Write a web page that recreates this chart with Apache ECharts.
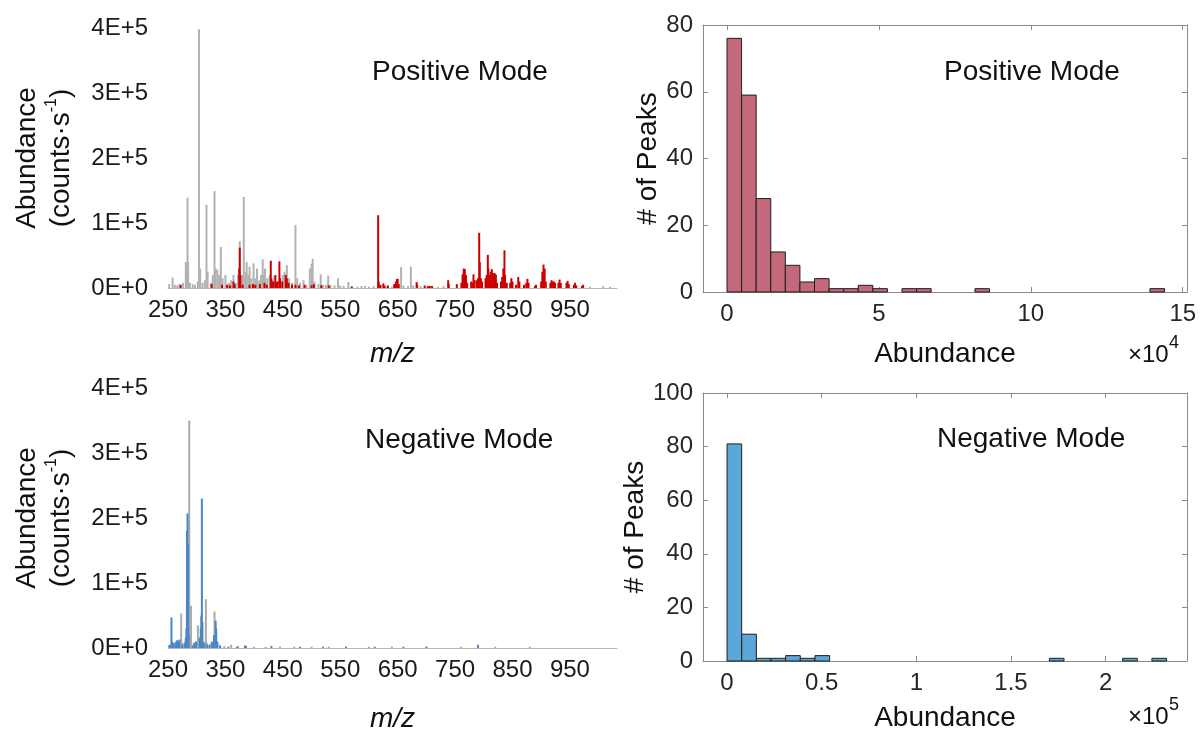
<!DOCTYPE html>
<html>
<head>
<meta charset="utf-8">
<script src="https://cdn.jsdelivr.net/npm/echarts@6/dist/echarts.min.js"></script>
<style>
html,body{margin:0;padding:0;background:#fff;}
#chart{width:1201px;height:739px;}
</style>
</head>
<body>
<div id="chart"></div>
<script>
// ---------- DATA ----------
// m/z tick labels for the spectra
const mzTicks = [250, 350, 450, 550, 650, 750, 850, 950];
const abundanceTicks = [0, 100000, 200000, 300000, 400000];

// Positive mode spectrum: all peaks (grey) [m/z, counts/s]
const posGray = [
  [252,6000],[258,16000],[262,5000],[266,4000],[270,6000],[276,8000],[281,40000],[283,30000],
  [284,139000],[285,40000],[288,8000],[293,6000],[297,5000],[302,10000],[304,398000],[306,30000],
  [310,8000],[314,12000],[317,128000],[319,25000],[325,8000],[328,20000],[331,149000],[333,30000],
  [336,28000],[339,20000],[342,63000],[345,15000],[350,20000],[356,8000],[360,12000],[364,20000],
  [368,8000],[372,20000],[375,72000],[379,20000],[382,140000],[385,25000],[387,40000],[390,20000],
  [392,33000],[395,15000],[399,38000],[402,15000],[405,30000],[409,12000],[412,20000],[415,44000],
  [417,20000],[419,30000],[423,15000],[427,20000],[431,12000],[435,18000],[440,10000],[446,12000],
  [450,20000],[453,25000],[457,35000],[461,15000],[466,8000],[472,97000],[475,15000],[480,8000],
  [486,12000],[491,5000],[497,30000],[500,37000],[502,45000],[505,10000],[512,6000],[516,21000],
  [520,5000],[525,5000],[529,19000],[533,5000],[540,4000],[546,15000],[550,4000],[556,3000],
  [564,9000],[570,3000],[580,2000],[587,3000],[593,3000],[600,2000],[608,3000],[620,3000],
  [630,2000],[640,2000],[656,32000],[660,4000],[668,3000],[673,33000],[677,4000],[690,3000],
  [700,2000],[710,3000],[720,2000],[730,3000],[985,2000],[1008,3000],[1020,2000]
];
// Positive mode spectrum: annotated peaks (red)
const posRed = [
  [272,5000],[326,6000],[344,5000],[353,5000],[358,4000],[364,10000],[366,6000],[374,30000],
  [375,62000],[376,20000],[380,5000],[392,5000],[398,6000],[402,5000],[410,6000],[418,8000],
  [422,5000],[429,42000],[430,15000],[433,10000],[437,20000],[438,8000],[441,10000],[444,41000],
  [445,15000],[449,10000],[455,20000],[457,15000],[460,8000],[466,5000],[472,5000],[478,4000],
  [488,5000],[500,4000],[504,6000],[517,4000],[530,4000],[570,2000],[616,112000],[617,10000],
  [620,5000],[625,7000],[627,4000],[633,4000],[644,6000],[647,10000],[649,14000],[650,14000],
  [652,6000],[683,9000],[684,5000],[697,4000],[703,3000],[706,3000],[710,3000],[738,12000],
  [739,6000],[753,6000],[761,8000],[763,21000],[765,30000],[767,29000],[769,20000],[771,8000],
  [778,10000],[780,8000],[782,21000],[784,12000],[788,12000],[790,15000],[792,85000],[793,40000],
  [795,15000],[797,10000],[803,15000],[805,20000],[807,51000],[808,30000],[810,20000],[812,25000],
  [814,29000],[816,23000],[818,23000],[820,22000],[821,20000],[823,8000],[830,10000],[832,17000],
  [834,30000],[836,58000],[837,20000],[840,8000],[846,8000],[848,15000],[850,10000],[856,5000],
  [860,17000],[862,10000],[870,5000],[874,8000],[876,14000],[878,8000],[889,3000],[891,5000],
  [900,10000],[902,25000],[904,36000],[906,30000],[908,10000],[916,8000],[918,12000],[920,10000],
  [922,10000],[924,8000],[930,8000],[932,13000],[934,8000],[944,8000],[946,11000],[948,6000],
  [957,5000],[959,8000],[961,4000],[971,3000],[973,5000]
];
// Negative mode spectrum: all peaks (grey)
const negGray = [
  [252,4000],[258,5000],[262,4000],[266,8000],[270,10000],[273,53000],[275,8000],[280,10000],
  [287,350000],[288,60000],[290,65000],[295,8000],[299,10000],[302,35000],[305,10000],[312,10000],
  [316,75000],[318,8000],[325,8000],[331,56000],[333,8000],[340,5000],[348,3000],[360,5000],
  [372,3000],[400,2000],[420,2000],[445,2000],[470,2000],[500,2000],[530,2000],[560,2000],
  [600,2000],[640,2000],[700,2000],[760,2000],[820,2000],[880,2000]
];
// Negative mode spectrum: annotated peaks (blue)
const negBlue = [
  [253,5000],[256,47000],[257,10000],[260,8000],[264,10000],[266,12000],[268,10000],[270,13000],
  [275,5000],[279,8000],[281,16000],[282,30000],[283,180000],[284,207000],[285,160000],[286,20000],
  [293,4000],[296,8000],[299,10000],[305,16000],[307,30000],[308,50000],[309,230000],[310,40000],
  [313,8000],[318,5000],[322,5000],[327,10000],[330,20000],[333,42000],[334,30000],[336,10000],
  [341,3000],[355,2000],[370,2000],[384,4000],[386,3000],[430,3000],[480,2000],[520,2000],
  [560,2000],[610,2000],[660,2000],[700,2000],[790,5000]
];

// Histograms: number of peaks per abundance bin
const posBinWidth = 0.48;   // x 1e4
const posCounts = [76,59,28,12,8,3,4,1,1,2,1,0,1,1,0,0,0,1,0,0,0,0,0,0,0,0,0,0,0,1];
const posHistTicks = [0, 5, 10, 15];
const negBinWidth = 0.0774; // x 1e5
const negCounts = [81,10,1,1,2,1,2,0,0,0,0,0,0,0,0,0,0,0,0,0,0,0,1,0,0,0,0,1,0,1];
const negHistTicks = [0, 0.5, 1, 1.5, 2];

// ---------- CHART ----------
const FONT = "'Liberation Sans', Arial, sans-serif";
const chart = echarts.init(document.getElementById('chart'), null, {renderer: 'canvas'});

function binData(counts, w) {
  const out = [];
  counts.forEach((c, i) => { if (c > 0) out.push([i * w, (i + 1) * w, c]); });
  return out;
}
function histRender(params, api) {
  const p0 = api.coord([api.value(0), api.value(2)]);
  const p1 = api.coord([api.value(1), 0]);
  return {
    type: 'rect',
    shape: {x: p0[0], y: p0[1], width: p1[0] - p0[0], height: p1[1] - p0[1]},
    style: {fill: api.visual('color'), stroke: '#1e1e1e', lineWidth: 1}
  };
}
function expFmt(v) { return v === 0 ? '0E+0' : Math.round(v / 1e5) + 'E+5'; }

const specGrids = [
  {left: 168, top: 28, width: 449, height: 260},
  {left: 168, top: 388, width: 449, height: 260}
];
const histGrids = [
  {left: 703, top: 25, width: 484, height: 267},
  {left: 703, top: 393, width: 484, height: 268}
];

const yNameRich = {
  a: {fontSize: 28, fontFamily: FONT, color: '#111', lineHeight: 34},
  s: {fontSize: 16, fontFamily: FONT, color: '#111', verticalAlign: 'top'}
};
const AX = '#8a8a8a';

function specX(gi, gap) {
  return {
    type: 'value', gridIndex: gi, min: 250, max: 1032,
    axisLine: {show: true, onZero: false, lineStyle: {color: '#b8b8b8', width: 1}},
    axisTick: {show: false}, splitLine: {show: false},
    axisLabel: {customValues: mzTicks, fontSize: 24, fontFamily: FONT, color: '#1a1a1a', margin: 10},
    name: 'm/z', nameLocation: 'middle', nameGap: gap,
    nameTextStyle: {fontSize: 28, fontStyle: 'italic', fontFamily: FONT, color: '#111'}
  };
}
function specY(gi) {
  return {
    type: 'value', gridIndex: gi, min: 0, max: 400000, interval: 100000,
    axisLine: {show: false, onZero: false}, axisTick: {show: false}, splitLine: {show: false},
    axisLabel: {formatter: expFmt, fontSize: 24, fontFamily: FONT, color: '#1a1a1a', margin: 20},
    name: '{a|Abundance}\n{a|(counts·s}{s|-1}{a|)}',
    nameLocation: 'middle', nameRotate: 90, nameGap: 90,
    nameTextStyle: {rich: yNameRich}
  };
}
function histX(gi, min, max, ticks, gap) {
  return {
    type: 'value', gridIndex: gi, min: min, max: max, position: 'bottom',
    axisLine: {show: true, onZero: false, lineStyle: {color: AX}},
    axisTick: {show: true, inside: true, length: 5, customValues: ticks, lineStyle: {color: AX}},
    splitLine: {show: false},
    axisLabel: {customValues: ticks, fontSize: 24, fontFamily: FONT, color: '#262626', margin: 10,
      formatter: v => String(v)},
    name: 'Abundance', nameLocation: 'middle', nameGap: gap,
    nameTextStyle: {fontSize: 28, fontFamily: FONT, color: '#111'}
  };
}
function histXTop(gi, min, max, ticks) {
  return {
    type: 'value', gridIndex: gi, min: min, max: max, position: 'top',
    axisLine: {show: true, onZero: false, lineStyle: {color: AX}},
    axisTick: {show: true, inside: true, length: 5, customValues: ticks, lineStyle: {color: AX}},
    splitLine: {show: false}, axisLabel: {show: false}
  };
}
function histY(gi, max) {
  return {
    type: 'value', gridIndex: gi, min: 0, max: max, interval: 20, position: 'left',
    axisLine: {show: true, onZero: false, lineStyle: {color: AX}},
    axisTick: {show: true, inside: true, length: 5, lineStyle: {color: AX}},
    splitLine: {show: false},
    axisLabel: {fontSize: 24, fontFamily: FONT, color: '#262626', margin: 10},
    name: '# of Peaks', nameLocation: 'middle', nameRotate: 90, nameGap: 37,
    nameTextStyle: {fontSize: 28, fontFamily: FONT, color: '#111'}
  };
}
function histYRight(gi, max) {
  return {
    type: 'value', gridIndex: gi, min: 0, max: max, interval: 20, position: 'right',
    axisLine: {show: true, onZero: false, lineStyle: {color: AX}},
    axisTick: {show: true, inside: true, length: 5, lineStyle: {color: AX}},
    splitLine: {show: false}, axisLabel: {show: false}
  };
}

function txt(x, y, text, size) {
  return {type: 'text', x: x, y: y, silent: true,
    style: {text: text, font: size + 'px ' + FONT, fill: '#111', align: 'left', verticalAlign: 'middle'}};
}

const option = {
  animation: false,
  backgroundColor: '#ffffff',
  grid: [...specGrids, ...histGrids].map(g => Object.assign({containLabel: false}, g)),
  xAxis: [
    specX(0, 52),
    specX(1, 57),
    histX(2, -0.79, 15.14, posHistTicks, 48),
    histXTop(2, -0.79, 15.14, posHistTicks),
    histX(3, -0.127, 2.43, negHistTicks, 43),
    histXTop(3, -0.127, 2.43, negHistTicks)
  ],
  yAxis: [
    specY(0),
    specY(1),
    histY(2, 80),
    histYRight(2, 80),
    histY(3, 100),
    histYRight(3, 100)
  ],
  series: [
    {type: 'bar', xAxisIndex: 0, yAxisIndex: 0, data: posGray, barWidth: 2, barGap: '-100%',
      itemStyle: {color: '#b2b2b2'}},
    {type: 'bar', xAxisIndex: 0, yAxisIndex: 0, data: posRed, barWidth: 2, barGap: '-100%',
      itemStyle: {color: '#cc0000'}},
    {type: 'bar', xAxisIndex: 1, yAxisIndex: 1, data: negGray, barWidth: 2, barGap: '-100%',
      itemStyle: {color: '#aaaaaa'}},
    {type: 'bar', xAxisIndex: 1, yAxisIndex: 1, data: negBlue, barWidth: 2, barGap: '-100%',
      itemStyle: {color: '#4a86c8'}},
    {type: 'custom', xAxisIndex: 2, yAxisIndex: 2, data: binData(posCounts, posBinWidth),
      encode: {x: [0, 1], y: 2}, renderItem: histRender, itemStyle: {color: '#c4697b'}},
    {type: 'custom', xAxisIndex: 4, yAxisIndex: 4, data: binData(negCounts, negBinWidth),
      encode: {x: [0, 1], y: 2}, renderItem: histRender, itemStyle: {color: '#5ca7d8'}}
  ],
  graphic: [
    txt(372, 72, 'Positive Mode', 28),
    txt(944, 72, 'Positive Mode', 28),
    txt(365, 440, 'Negative Mode', 28),
    txt(937, 439, 'Negative Mode', 28),
    txt(1128, 355, '×10', 24),
    txt(1169, 343, '4', 18),
    txt(1128, 717, '×10', 24),
    txt(1169, 705, '5', 18)
  ]
};
chart.setOption(option);
</script>
</body>
</html>
